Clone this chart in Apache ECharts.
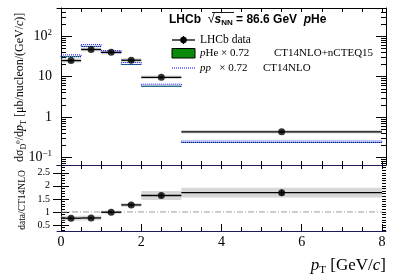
<!DOCTYPE html>
<html><head><meta charset="utf-8">
<script src="https://cdn.jsdelivr.net/npm/echarts@6/dist/echarts.min.js"></script>
<style>html,body{margin:0;padding:0;background:#fff}#c{width:407px;height:276px}</style>
</head><body><div id="c"></div>
<script>
// ---- data ----
const binLow = [0, 0.5, 1, 1.5, 2, 3];
const binHigh = [0.5, 1, 1.5, 2, 3, 8];
const binCenter = [0.25, 0.75, 1.25, 1.75, 2.5, 5.5];
const xsec = [25, 47, 40, 25.5, 9.6, 0.43];
const xsecStat = [2, 3, 2.5, 2, 0.6, 0.035];
const xsecSysLow = [22.3, 42, 36, 23, 8.7, 0.39];
const xsecSysHigh = [28, 52.5, 44.5, 28.5, 10.6, 0.475];
const ppLow = [31, 56, 39, 20, 5.8, 0.234];
const ppHigh = [34.5, 62, 44, 22.4, 6.5, 0.255];
const pheLow = [30.5, 55, 38.5, 19.6, 5.6, 0.227];
const pheHigh = [32, 57.5, 40, 20.6, 5.95, 0.238];
const ratio = [0.76, 0.77, 0.99, 1.27, 1.63, 1.74];
const ratioStat = [0.04, 0.04, 0.04, 0.05, 0.08, 0.11];
const ratioSysLow = [0.67, 0.68, 0.93, 1.2, 1.46, 1.55];
const ratioSysHigh = [0.85, 0.86, 1.05, 1.34, 1.8, 1.93];
const refLineX = [0, 8];
const refLineY = 1;
const xTickLabels = [0, 2, 4, 6, 8];
const yTopTickLabels = [0.1, 1, 10, 100];
const yRatioTickLabels = [0.5, 1, 1.5, 2, 2.5];

// ---- tick helpers ----
const xMinor = []; for (let i = 0; i <= 16; i++) xMinor.push(i * 0.5);
const logMinor = [];
for (let k = -2; k <= 2; k++) for (let m = 2; m <= 9; m++) logMinor.push(+(m * Math.pow(10, k)).toPrecision(3));
const ratioMinor = []; for (let i = 3; i <= 28; i++) ratioMinor.push(+(i * 0.1).toFixed(1));

const SERIF = 'Liberation Serif';
const NAVY = '#1c1c5a';
const TOPMIN = 0.065, TOPMAX = 500, RMIN = 0.27, RMAX = 2.8, XMIN = -0.1, XMAX = 8.1;

function xAx(grid, pos, lineColor, opt) {
  return Object.assign({
    type: 'value', gridIndex: grid, position: pos, min: XMIN, max: XMAX,
    axisLine: { show: true, lineStyle: { color: lineColor, width: 1 } },
    axisTick: { show: true, inside: true, length: 4, customValues: xMinor, lineStyle: { color: '#000' } },
    axisLabel: { show: false }, splitLine: { show: false }
  }, opt || {});
}
function yAx(grid, pos, type, min, max, ticks, len, showLine, opt) {
  return Object.assign({
    type: type, gridIndex: grid, position: pos, min: min, max: max,
    axisLine: { show: showLine, lineStyle: { color: '#000', width: 1 } },
    axisTick: { show: true, inside: true, length: len, customValues: ticks, lineStyle: { color: '#000' } },
    axisLabel: { show: false }, splitLine: { show: false }, minorTick: { show: false }
  }, opt || {});
}
function logLabel(v) {
  const e = Math.round(Math.log10(v));
  if (e === 0) return '1';
  if (e === 1) return '10';
  return '10{s|' + (e < 0 ? '\u2212' + (-e) : e) + '}';
}

function rectRender(style) {
  return function (params, api) {
    const p1 = api.coord([api.value(0), api.value(3)]);
    const p2 = api.coord([api.value(1), api.value(2)]);
    return { type: 'rect', shape: { x: p1[0], y: p1[1], width: p2[0] - p1[0], height: p2[1] - p1[1] }, style: style };
  };
}
function errRender(params, api) {
  const lo = api.value(0), hi = api.value(1), xc = api.value(2), v = api.value(3), e = api.value(4);
  const a = api.coord([lo, v]), b = api.coord([hi, v]);
  const c = api.coord([xc, v - e]), d = api.coord([xc, v + e]);
  const st = { stroke: '#000', lineWidth: 1.3 };
  return { type: 'group', children: [
    { type: 'line', shape: { x1: a[0], y1: a[1], x2: b[0], y2: b[1] }, style: st },
    { type: 'line', shape: { x1: c[0], y1: c[1], x2: d[0], y2: d[1] }, style: st }
  ] };
}
const idx = binLow.map((_, i) => i);
const sysTop = idx.map(i => [binLow[i], binHigh[i], xsecSysLow[i], xsecSysHigh[i]]);
const pheBand = idx.map(i => [binLow[i], binHigh[i], pheLow[i], pheHigh[i]]);
const ppBand = idx.map(i => [binLow[i], binHigh[i], ppLow[i], ppHigh[i]]);
const errTop = idx.map(i => [binLow[i], binHigh[i], binCenter[i], xsec[i], xsecStat[i]]);
const ptsTop = idx.map(i => [binCenter[i], xsec[i]]);
const sysRat = idx.map(i => [binLow[i], binHigh[i], ratioSysLow[i], ratioSysHigh[i]]);
const errRat = idx.map(i => [binLow[i], binHigh[i], binCenter[i], ratio[i], ratioStat[i]]);
const ptsRat = idx.map(i => [binCenter[i], ratio[i]]);

const GREY = { fill: 'rgba(175,175,175,0.5)', stroke: 'none' };
const LEG = 11;

const option = {
  animation: false,
  grid: [
    { left: 57, right: 21, top: 8, height: 157 },
    { left: 57, right: 21, top: 165, height: 66 }
  ],
  xAxis: [
    xAx(0, 'bottom', NAVY),
    xAx(0, 'top', '#000'),
    xAx(1, 'bottom', NAVY, {
      axisLabel: { show: true, customValues: xTickLabels, fontFamily: SERIF, fontSize: 14, color: '#000', margin: 4 }
    }),
    xAx(1, 'bottom', NAVY, { axisLine: { show: false }, axisTick: { show: true, inside: true, length: 7, customValues: xTickLabels, lineStyle: { color: '#000' } } }),
    xAx(1, 'top', NAVY)
  ],
  yAxis: [
    yAx(0, 'left', 'log', TOPMIN, TOPMAX, yTopTickLabels, 11, true, {
      logBase: 10,
      axisLabel: { show: true, customValues: yTopTickLabels, formatter: logLabel, fontFamily: SERIF, fontSize: 14, color: '#000', margin: 5,
        rich: { s: { fontFamily: SERIF, fontSize: 9, padding: [0, 0, 8, 0], color: '#000' } } }
    }),
    yAx(0, 'left', 'log', TOPMIN, TOPMAX, logMinor, 5, false, { logBase: 10 }),
    yAx(0, 'right', 'log', TOPMIN, TOPMAX, yTopTickLabels, 10, true, { logBase: 10 }),
    yAx(0, 'right', 'log', TOPMIN, TOPMAX, logMinor, 5, false, { logBase: 10 }),
    yAx(1, 'left', 'value', RMIN, RMAX, yRatioTickLabels, 8, true, {
      axisLabel: { show: true, customValues: yRatioTickLabels, fontFamily: SERIF, fontSize: 10, color: '#000', margin: 7 }
    }),
    yAx(1, 'left', 'value', RMIN, RMAX, ratioMinor, 4, false),
    yAx(1, 'right', 'value', RMIN, RMAX, yRatioTickLabels, 8, true),
    yAx(1, 'right', 'value', RMIN, RMAX, ratioMinor, 4, false)
  ],
  series: [
    { type: 'custom', name: 'sys', xAxisIndex: 0, yAxisIndex: 0, clip: true, renderItem: rectRender(GREY), data: sysTop, z: 2 },
    { type: 'custom', name: 'pHe x 0.72 CT14NLO+nCTEQ15', xAxisIndex: 0, yAxisIndex: 0, clip: true,
      renderItem: rectRender({ fill: '#0a8a0a', stroke: 'none' }), data: pheBand, z: 3 },
    { type: 'custom', name: 'pp x 0.72 CT14NLO', xAxisIndex: 0, yAxisIndex: 0, clip: true,
      renderItem: rectRender({ fill: 'rgba(0,0,0,0)', stroke: '#0000ff', lineWidth: 1, lineDash: [1, 1] }), data: ppBand, z: 4 },
    { type: 'custom', name: 'LHCb data err', xAxisIndex: 0, yAxisIndex: 0, clip: true, renderItem: errRender, data: errTop, z: 5 },
    { type: 'scatter', name: 'LHCb data', xAxisIndex: 0, yAxisIndex: 0, data: ptsTop, symbol: 'circle', symbolSize: 7,
      itemStyle: { color: '#000' }, z: 6 },
    { type: 'custom', name: 'ratio sys', xAxisIndex: 2, yAxisIndex: 4, clip: true, renderItem: rectRender(GREY), data: sysRat, z: 2 },
    { type: 'line', name: 'unity', xAxisIndex: 2, yAxisIndex: 4, data: refLineX.map(x => [x, refLineY]), symbol: 'none',
      lineStyle: { color: '#999', width: 1, type: [6, 2, 1, 2] }, z: 3 },
    { type: 'custom', name: 'ratio err', xAxisIndex: 2, yAxisIndex: 4, clip: true, renderItem: errRender, data: errRat, z: 5 },
    { type: 'scatter', name: 'ratio', xAxisIndex: 2, yAxisIndex: 4, data: ptsRat, symbol: 'circle', symbolSize: 7,
      itemStyle: { color: '#000' }, z: 6 }
  ],
  graphic: [
    // y title top
    { type: 'text', x: 20, y: 162, rotation: Math.PI / 2, z: 10,
      style: { text: '{n|d\u03c3}{sb|D}{sp|0}{n|/d}{i|p}{sb|T}{n| [\u03bcb/nucleon/(GeV/}{i|c}{n|)]}',
        align: 'left', verticalAlign: 'middle', fill: '#000',
        rich: {
          n: { fontFamily: SERIF, fontSize: 12 },
          i: { fontFamily: SERIF, fontSize: 12, fontStyle: 'italic' },
          sb: { fontFamily: SERIF, fontSize: 8, padding: [7, 0, 0, 0] },
          sp: { fontFamily: SERIF, fontSize: 7, padding: [0, 0, 4, 0] }
        } } },
    // y title ratio
    { type: 'text', x: 22, y: 200, rotation: Math.PI / 2, z: 10,
      style: { text: 'data/CT14NLO', align: 'center', verticalAlign: 'middle', fill: '#000', fontFamily: SERIF, fontSize: 9.5 } },
    // x title
    { type: 'text', x: 386, y: 266, z: 10,
      style: { text: '{i|p}{sb|T}{n| [GeV/}{i|c}{n|]}', align: 'right', verticalAlign: 'middle', fill: '#000',
        rich: {
          n: { fontFamily: SERIF, fontSize: 17 },
          i: { fontFamily: SERIF, fontSize: 17, fontStyle: 'italic' },
          sb: { fontFamily: SERIF, fontSize: 11, padding: [9, 0, 0, 0] }
        } } },
    // header
    { type: 'text', x: 169, y: 20, z: 10,
      style: { text: '{b|LHCb  }{r|\u221a}{bi|s}{sb|NN}{b| = 86.6 GeV  }{bi|p}{b|He}', align: 'left', verticalAlign: 'middle', fill: '#000',
        rich: {
          b: { fontFamily: 'Liberation Sans', fontWeight: 'bold', fontSize: 12 },
          r: { fontFamily: 'Liberation Sans', fontSize: 12.5 },
          bi: { fontFamily: 'Liberation Sans', fontWeight: 'bold', fontStyle: 'italic', fontSize: 12 },
          sb: { fontFamily: 'Liberation Sans', fontWeight: 'bold', fontSize: 8, padding: [6, 0, 0, 0] }
        } } },
    { type: 'line', shape: { x1: 212, y1: 12.5, x2: 234, y2: 12.5 }, style: { stroke: '#000', lineWidth: 0.9 }, z: 10 },
    // legend: LHCb data
    { type: 'line', shape: { x1: 172, y1: 40, x2: 195, y2: 40 }, style: { stroke: '#000', lineWidth: 1.3 }, z: 10 },
    { type: 'line', shape: { x1: 183.5, y1: 36, x2: 183.5, y2: 44 }, style: { stroke: '#000', lineWidth: 1.3 }, z: 10 },
    { type: 'circle', shape: { cx: 183.5, cy: 40, r: 3.3 }, style: { fill: '#000' }, z: 10 },
    { type: 'text', x: 200, y: 40, z: 10, style: { text: 'LHCb data', fontFamily: SERIF, fontSize: 11.5, fill: '#000', verticalAlign: 'middle' } },
    // legend: pHe
    { type: 'rect', shape: { x: 172, y: 48.5, width: 23, height: 9.5 }, style: { fill: '#0a8a0a', stroke: '#000', lineWidth: 1 }, z: 10 },
    { type: 'text', x: 200, y: 53.5, z: 10, style: { text: '{i|p}{n|He \u00d7 0.72}', verticalAlign: 'middle', fill: '#000',
        rich: { n: { fontFamily: SERIF, fontSize: LEG }, i: { fontFamily: SERIF, fontSize: LEG, fontStyle: 'italic' } } } },
    { type: 'text', x: 274, y: 53.5, z: 10, style: { text: 'CT14NLO+nCTEQ15', fontFamily: SERIF, fontSize: LEG, fill: '#000', verticalAlign: 'middle' } },
    // legend: pp
    { type: 'line', shape: { x1: 172, y1: 68, x2: 195, y2: 68 }, style: { stroke: '#0000ff', lineWidth: 1, lineDash: [1, 1] }, z: 10 },
    { type: 'text', x: 200, y: 68, z: 10, style: { text: '{i|pp}{n|   \u00d7 0.72}', verticalAlign: 'middle', fill: '#000',
        rich: { n: { fontFamily: SERIF, fontSize: LEG }, i: { fontFamily: SERIF, fontSize: LEG, fontStyle: 'italic' } } } },
    { type: 'text', x: 263, y: 68, z: 10, style: { text: 'CT14NLO', fontFamily: SERIF, fontSize: LEG, fill: '#000', verticalAlign: 'middle' } }
  ]
};
const chart = echarts.init(document.getElementById('c'), null, { renderer: 'canvas' });
chart.setOption(option);
</script></body></html>
